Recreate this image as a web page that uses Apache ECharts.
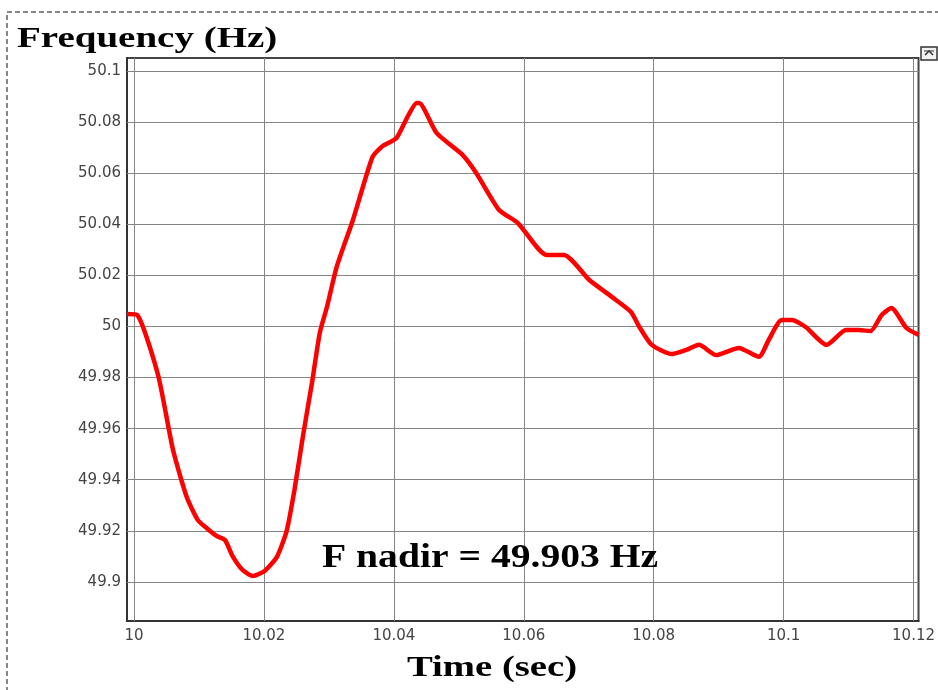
<!DOCTYPE html>
<html>
<head>
<meta charset="utf-8">
<script src="https://cdn.jsdelivr.net/npm/echarts@6/dist/echarts.min.js"></script>
<style>
  html, body { margin: 0; padding: 0; background: #fff; }
  #chart { width: 938px; height: 690px; }
</style>
</head>
<body>
<div id="chart"></div>
<script>
// frequency trace
const timeSec = [
  9.9989, 10.0005, 10.0037, 10.0060, 10.0081, 10.0098, 10.0112, 10.0127, 10.0140, 10.0152,
  10.0167, 10.0183, 10.0201, 10.0220, 10.0235, 10.0247, 10.0260, 10.0274, 10.0286, 10.0297,
  10.0312, 10.0337, 10.0367, 10.0381, 10.0404, 10.0420, 10.0435, 10.0439, 10.0466, 10.0506,
  10.0527, 10.0562, 10.0591, 10.0635, 10.0662, 10.0701, 10.0736, 10.0765, 10.0778, 10.0797,
  10.0828, 10.0850, 10.0870, 10.0896, 10.0931, 10.0962, 10.0977, 10.0997, 10.1013, 10.1034,
  10.1066, 10.1096, 10.1116, 10.1134, 10.1151, 10.1166, 10.1189, 10.1208
];
const freqHz = [
  50.0049, 50.0045, 49.9810, 49.9517, 49.9333, 49.9243, 49.9210, 49.9180, 49.9164, 49.9100,
  49.9047, 49.9023, 49.9043, 49.9098, 49.9200, 49.9360, 49.9570, 49.9780, 49.9975, 50.0076,
  50.0233, 50.0417, 50.0663, 50.0703, 50.0738, 50.0816, 50.0875, 50.0875, 50.0757, 50.0671,
  50.0600, 50.0456, 50.0405, 50.0280, 50.0280, 50.0182, 50.0115, 50.0057, 49.9998, 49.9928,
  49.9892, 49.9908, 49.9928, 49.9888, 49.9916, 49.9881, 49.9947, 50.0025, 50.0025, 49.9998,
  49.9928, 49.9986, 49.9986, 49.9982, 50.0045, 50.0072, 49.9994, 49.9967
];

const xTicks = [10, 10.02, 10.04, 10.06, 10.08, 10.1, 10.12];
const yTicks = [49.9, 49.92, 49.94, 49.96, 49.98, 50, 50.02, 50.04, 50.06, 50.08, 50.1];

const titleText = 'Frequency (Hz)';
const xName = 'Time (sec)';
const noteText = 'F nadir = 49.903 Hz';

const chart = echarts.init(document.getElementById('chart'));

const points = timeSec.map((t, i) => [t, freqHz[i]]);
const fmt = v => String(+(+v).toFixed(2));
const serifBold = 'bold 30px "Liberation Serif", "Times New Roman", serif';

const option = {
  backgroundColor: '#fff',
  animation: false,
  grid: {
    left: 127, right: 18, top: 58, bottom: 69,
    show: true,
    borderColor: '#444',
    borderWidth: 2,
    backgroundColor: '#fff'
  },
  xAxis: {
    type: 'value',
    min: 9.99892,
    max: 10.12077,
    axisLine: { show: true, onZero: false, lineStyle: { color: '#333', width: 2 } },
    axisTick: { show: true, inside: true, length: 6, customValues: xTicks, lineStyle: { color: '#333' } },
    axisLabel: {
      customValues: xTicks,
      formatter: fmt,
      margin: 8,
      color: '#444',
      fontFamily: 'DejaVu Sans',
      fontSize: 15
    },
    splitLine: { show: false }
  },
  yAxis: {
    type: 'value',
    min: 49.8847,
    max: 50.1051,
    axisLine: { show: true, onZero: false, lineStyle: { color: '#333', width: 2 } },
    axisTick: { show: true, inside: true, length: 6, customValues: yTicks, lineStyle: { color: '#333' } },
    axisLabel: {
      customValues: yTicks,
      formatter: fmt,
      margin: 6,
      color: '#444',
      fontFamily: 'DejaVu Sans',
      fontSize: 15
    },
    splitLine: { show: false }
  },
  series: [
    {
      // carries the grid lines only
      type: 'line',
      data: points,
      z: 1,
      symbol: 'none',
      silent: true,
      lineStyle: { opacity: 0, width: 0 },
      markLine: {
        silent: true,
        symbol: ['none', 'none'],
        label: { show: false },
        lineStyle: { color: '#858585', width: 1, type: 'solid' },
        data: xTicks.map(v => ({ xAxis: v })).concat(yTicks.map(v => ({ yAxis: v })))
      }
    },
    {
      type: 'line',
      data: points,
      z: 5,
      symbol: 'none',
      smooth: 0.2,
      lineStyle: { color: '#ff0000', width: 4.5 }
    }
  ],
  graphic: [
    {
      type: 'polyline',
      shape: { points: [[7, 700], [7, 12], [945, 12]] },
      style: { fill: null, stroke: '#111', lineWidth: 1, lineDash: [5, 3] },
      z: 10
    },
    {
      type: 'text',
      x: 17, y: 39, scaleX: 1.3,
      style: { text: titleText, font: serifBold, fill: '#000', align: 'left', verticalAlign: 'middle' },
      z: 10
    },
    {
      type: 'text',
      x: 492, y: 668, scaleX: 1.29,
      style: { text: xName, font: serifBold, fill: '#000', align: 'center', verticalAlign: 'middle' },
      z: 10
    },
    {
      type: 'text',
      x: 322, y: 558, scaleX: 1.2,
      style: { text: noteText, font: 'bold 33px "Liberation Serif", "Times New Roman", serif', fill: '#000', align: 'left', verticalAlign: 'middle' },
      z: 10
    },
    {
      type: 'rect',
      shape: { x: 921, y: 47, width: 16, height: 13 },
      style: { fill: '#f2f2f2', stroke: '#333', lineWidth: 1.5 },
      z: 10
    },
    {
      type: 'polyline',
      shape: { points: [[925, 55], [929, 51], [933, 55]] },
      style: { fill: null, stroke: '#333', lineWidth: 1.5 },
      z: 11
    },
    {
      type: 'line',
      shape: { x1: 924, y1: 51, x2: 934, y2: 51 },
      style: { stroke: '#333', lineWidth: 1 },
      z: 11
    }
  ]
};

chart.setOption(option);
</script>
</body>
</html>
